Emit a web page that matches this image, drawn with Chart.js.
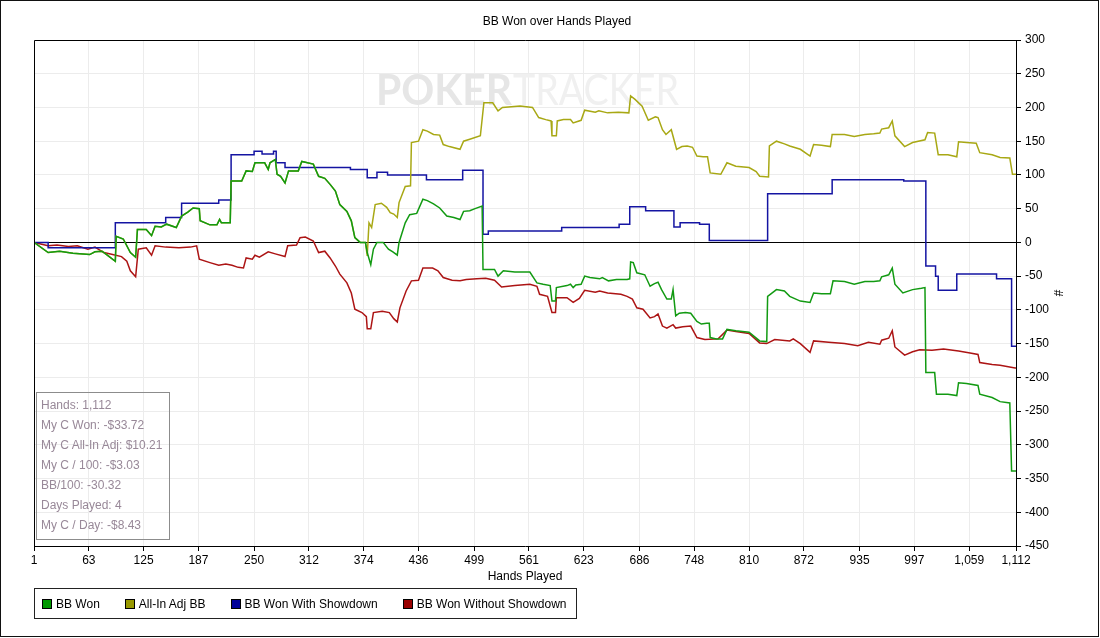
<!DOCTYPE html>
<html>
<head>
  <title>BB Won over Hands Played</title>
  <style>
    body { margin: 0; background: #fff; }
    #wrap { position: relative; width: 1100px; height: 638px; }
    #info { position: absolute; left: 36px; top: 392px; width: 128px; height: 144px; border: 1px solid #8c8c8c;
            padding: 2px 0 0 4px; font: 12px "Liberation Sans", Arial, sans-serif; line-height: 20px; color: #988898; pointer-events: none; }
    #legend { position: absolute; left: 34px; top: 588px; height: 29px; border: 1px solid #222; display: flex; align-items: center;
              padding: 0 9px 0 7px; font: 12px "Liberation Sans", Arial, sans-serif; color: #000; }
    #legend .item { display: flex; align-items: center; margin-right: 25px; }
    #legend .item:last-child { margin-right: 0; }
    #legend .sw { width: 8px; height: 8px; border: 1px solid #000; margin-right: 4px; }
  </style>
</head>
<body>
<div id="wrap">
  <canvas id="myChart" width="1100" height="638"></canvas>
  <div id="info"></div>
  <div id="legend"></div>
</div>
<script src="https://cdn.jsdelivr.net/npm/chart.js@4.4.0/dist/chart.umd.min.js"></script>
<script>
// tick labels
const xTickValues = [1, 63, 125, 187, 250, 312, 374, 436, 499, 561, 623, 686, 748, 810, 872, 935, 997, 1059, 1112];

const seriesNames = ['BB Won', 'All-In Adj BB', 'BB Won With Showdown', 'BB Won Without Showdown'];

// BB Won
const bbWonHands = [1,17,30,45,64,70,78,85,93,94,102,110,116,118,128,134,138,145,151,162,168,175,181,188,189,200,208,211,213,223,224,236,241,248,251,262,266,268,274,276,280,285,289,300,304,317,323,330,336,342,347,355,360,364,370,376,378,382,385,389,396,402,407,412,414,421,426,434,441,446,453,460,468,476,483,487,494,500,508,509,522,526,532,545,562,570,577,585,587,591,592,604,608,611,614,620,624,630,641,644,651,660,672,675,676,679,683,692,698,703,707,711,717,722,724,727,731,738,744,751,756,762,765,766,773,780,785,795,810,822,830,831,841,850,856,868,879,883,892,902,905,918,929,941,951,958,960,968,972,975,984,995,1005,1009,1010,1020,1022,1035,1045,1047,1056,1069,1071,1085,1094,1105,1107,1112];
const bbWonValues = [0,-15,-13,-16,-18,-14,-13,-20,-28,9,5,-15,-22,19,19,10,24,23,27,22,39,45,51,50,32,26,26,34,29,29,91,91,106,105,118,118,108,118,123,101,98,88,106,106,120,116,98,95,86,76,56,46,32,7,0,0,-15,-33,-10,0,0,-10,-14,-19,0,29,41,43,64,62,57,51,39,37,34,46,47,50,54,-40,-40,-50,-42,-44,-44,-60,-62,-64,-87,-87,-67,-64,-62,-67,-63,-62,-50,-52,-54,-52,-57,-55,-55,-54,-29,-30,-45,-48,-65,-61,-59,-70,-84,-84,-70,-109,-105,-104,-105,-117,-121,-120,-120,-141,-143,-143,-129,-131,-133,-146,-147,-80,-70,-72,-80,-87,-89,-75,-76,-76,-57,-58,-62,-58,-58,-57,-51,-48,-38,-62,-75,-70,-68,-67,-193,-193,-225,-225,-227,-208,-209,-212,-225,-230,-236,-238,-339,-339];

// All-In Adj BB (same as BB Won up to hand 376)
const allInHands = [1,17,30,45,64,70,78,85,93,94,102,110,116,118,128,134,138,145,151,162,168,175,181,188,189,200,208,211,213,223,224,236,241,248,251,262,266,268,274,276,280,285,289,300,304,317,323,330,336,342,347,355,360,364,370,376,378,380,383,387,394,400,404,408,412,414,421,427,428,436,441,446,453,460,464,471,483,487,494,506,510,520,526,531,551,565,572,580,586,587,592,593,600,608,611,620,624,636,640,650,662,674,676,681,689,696,704,707,712,716,722,728,734,740,746,751,758,763,766,778,785,795,810,818,822,832,833,841,850,856,868,879,883,892,902,904,918,929,941,951,958,960,968,972,975,986,995,1009,1012,1020,1024,1035,1045,1047,1056,1067,1071,1085,1094,1105,1108,1112];
const allInValues = [0,-15,-13,-16,-18,-14,-13,-20,-28,9,5,-15,-22,19,19,10,24,23,27,22,39,45,51,50,32,26,26,34,29,29,91,91,106,105,118,118,108,118,123,101,98,88,106,106,120,116,98,95,86,76,56,46,32,7,0,0,-20,29,22,56,58,52,44,42,37,59,83,84,148,150,167,165,160,159,145,142,138,150,153,158,207,207,195,200,202,200,185,182,180,158,158,180,182,182,177,181,196,193,195,192,193,192,217,212,202,181,186,185,167,160,167,138,142,143,141,128,127,127,103,101,118,113,111,105,98,97,143,150,146,143,138,128,145,144,142,160,160,157,160,161,162,168,170,180,158,142,148,152,163,162,130,130,127,149,148,147,133,130,126,125,101,101];

// BB Won With Showdown (value after each step)
const sdHands = [1,17,93,150,168,210,224,250,259,272,275,285,359,378,389,401,445,486,509,515,598,663,675,693,725,732,754,765,831,904,985,1010,1021,1024,1045,1090,1107,1112];
const sdValues = [0,-8,29,37,58,63,130,135,131,135,118,111,108,96,104,100,93,107,12,17,22,27,53,47,23,29,27,3,72,93,91,-35,-50,-71,-47,-54,-154,-154];

// BB Won Without Showdown
const nsdHands = [1,17,27,40,50,62,70,80,90,100,106,110,116,119,128,134,138,150,165,178,185,188,200,210,218,225,232,238,241,248,251,256,266,274,285,288,298,302,308,317,323,330,336,342,347,355,360,364,372,377,378,382,385,395,403,408,412,415,422,428,436,441,452,458,464,474,483,490,502,512,522,530,545,562,570,573,582,587,591,592,604,611,618,624,636,641,650,665,672,678,683,690,698,703,707,712,717,724,727,735,744,751,760,775,785,795,810,822,830,839,856,860,868,879,883,900,918,933,945,958,960,968,972,975,986,995,1003,1017,1030,1047,1060,1069,1071,1085,1094,1111,1112];
const nsdValues = [0,-5,-4,-6,-5,-10,-7,-15,-18,-21,-28,-42,-51,-10,-8,-19,-5,-7,-8,-7,-5,-25,-30,-34,-32,-34,-37,-38,-23,-25,-19,-22,-14,-17,-21,-5,-4,7,8,2,-15,-13,-23,-35,-47,-60,-75,-99,-104,-110,-128,-128,-104,-102,-104,-113,-118,-97,-72,-57,-56,-38,-38,-42,-52,-56,-57,-55,-54,-53,-56,-66,-64,-62,-65,-77,-80,-104,-104,-82,-82,-89,-83,-71,-74,-72,-75,-77,-80,-84,-97,-99,-112,-110,-106,-124,-127,-122,-127,-125,-124,-141,-144,-143,-130,-132,-135,-149,-150,-144,-146,-143,-150,-163,-146,-148,-150,-153,-148,-151,-145,-142,-131,-155,-167,-162,-159,-160,-158,-161,-164,-166,-178,-181,-182,-186,-186];

const lineColors = ['#129a12', '#a8a814', '#1414a2', '#ac1414'];
const swatchColors = ['#009900', '#999900', '#000099', '#990000'];

const infoLines = ['Hands: 1,112', 'My C Won: -$33.72', 'My C All-In Adj: $10.21', 'My C / 100: -$3.03',
                   'BB/100: -30.32', 'Days Played: 4', 'My C / Day: -$8.43'];

function toPoints(hands, values) {
  return hands.map((h, i) => ({ x: h, y: values[i] }));
}

document.getElementById('info').innerHTML = infoLines.map(t => '<div>' + t + '</div>').join('');
document.getElementById('legend').innerHTML = seriesNames.map((n, i) =>
  '<div class="item"><div class="sw" style="background:' + swatchColors[i] + '"></div>' + n + '</div>').join('');

// border of the whole picture, plot frame and watermark
const framePlugin = {
  id: 'frame',
  beforeDatasetsDraw(chart) {
    const ctx = chart.ctx;
    ctx.save();
    ctx.textBaseline = 'alphabetic';
    ctx.font = 'bold 42px Lato, "Open Sans", sans-serif';
    let w = ctx.measureText('POKER').width;
    ctx.fillStyle = '#e6e6e6';
    ctx.translate(376, 105);
    ctx.scale(136 / w, 1);
    ctx.fillText('POKER', 0, 0);
    ctx.restore();
    ctx.save();
    ctx.font = '42px Lato, "Open Sans", sans-serif';
    w = ctx.measureText('TRACKER').width;
    ctx.fillStyle = '#f0f0f0';
    ctx.translate(513, 105);
    ctx.scale(166 / w, 1);
    ctx.fillText('TRACKER', 0, 0);
    ctx.restore();
  },
  afterDraw(chart) {
    const ctx = chart.ctx;
    const a = chart.chartArea;
    ctx.save();
    ctx.strokeStyle = '#000';
    ctx.lineWidth = 1;
    ctx.beginPath();
    ctx.moveTo(Math.round(a.left) + 0.5, Math.round(a.bottom));
    ctx.lineTo(Math.round(a.left) + 0.5, Math.round(a.top) + 0.5);
    ctx.lineTo(Math.round(a.right), Math.round(a.top) + 0.5);
    ctx.stroke();
    ctx.strokeStyle = '#111';
    ctx.strokeRect(0.5, 0.5, 1098, 636);
    ctx.restore();
  }
};

Chart.defaults.font.family = '"Liberation Sans", Arial, sans-serif';
Chart.defaults.font.size = 12;
Chart.defaults.color = '#000';

const datasets = [
  { label: seriesNames[0], data: toPoints(bbWonHands, bbWonValues), borderColor: lineColors[0] },
  { label: seriesNames[1], data: toPoints(allInHands, allInValues), borderColor: lineColors[1] },
  { label: seriesNames[2], data: toPoints(sdHands, sdValues), borderColor: lineColors[2], stepped: true },
  { label: seriesNames[3], data: toPoints(nsdHands, nsdValues), borderColor: lineColors[3] }
].map(d => Object.assign({ borderWidth: 1.5, pointRadius: 0, tension: 0, fill: false }, d));

let ctx = document.getElementById('myChart').getContext('2d');
let chart = new Chart(ctx, {
  type: 'line',
  data: { datasets: datasets },
  options: {
    responsive: false,
    animation: false,
    layout: { padding: { left: 14, right: 0, top: 0, bottom: 46 } },
    plugins: {
      legend: { display: false },
      tooltip: { enabled: false },
      title: {
        display: true,
        text: 'BB Won over Hands Played',
        color: '#000',
        font: { size: 12, weight: 'normal' },
        padding: { top: 14, bottom: 11.6 }
      }
    },
    scales: {
      x: {
        type: 'linear',
        min: 1,
        max: 1112,
        afterBuildTicks: s => { s.ticks = xTickValues.map(v => ({ value: v })); },
        afterFit: s => { s.height = 46; },
        ticks: {
          autoSkip: false,
          maxRotation: 0,
          padding: 2,
          color: '#000',
          callback: v => Number(v).toLocaleString('en-US')
        },
        grid: { color: '#ececec', tickColor: '#000', tickLength: 5 },
        border: { color: '#000' },
        title: { display: true, text: 'Hands Played', color: '#000', padding: { top: 0, bottom: 7.8 } }
      },
      y: {
        position: 'right',
        min: -450,
        max: 300,
        afterFit: s => { s.width = 84; },
        ticks: { stepSize: 50, padding: 4, color: '#000' },
        grid: {
          color: c => (c.tick && c.tick.value === 0) ? '#000' : '#ececec',
          tickColor: '#000',
          tickLength: 5
        },
        border: { color: '#000' },
        title: { display: true, text: '#', color: '#000', padding: { top: 35, bottom: 0 } }
      },
      // empty margin on the left of the plot
      yl: {
        type: 'linear',
        position: 'left',
        display: true,
        afterFit: s => { s.width = 20; },
        ticks: { display: false },
        grid: { display: false },
        border: { display: false }
      }
    }
  },
  plugins: [framePlugin]
});
</script>
</body>
</html>
